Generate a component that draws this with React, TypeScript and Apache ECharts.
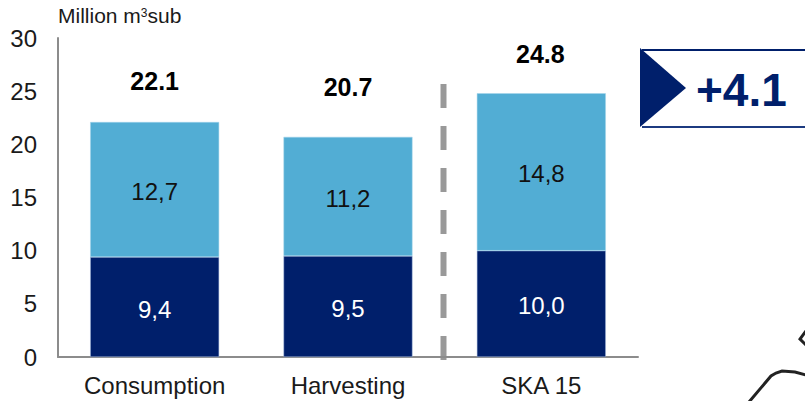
import React, { useEffect, useRef } from "react";
import * as echarts from "echarts";

const categories = ["Consumption", "Harvesting", "SKA 15"];
const lowerValues = [9.4, 9.5, 10.0];
const upperValues = [12.7, 11.2, 14.8];
const totals = [22.1, 20.7, 24.8];
const totalOffsets = [[0, -23], [0, -32], [-1, -21]];
const yTicks = [0, 5, 10, 15, 20, 25, 30];
const deltaLabel = "+4.1";

const NAVY = "#001f6b";
const SKY = "#52add4";
const AXIS = "#8c8c8c";
const FONT = "'Liberation Sans', Arial, sans-serif";

const decimalComma = (v: number) => v.toFixed(1).replace(".", ",");

export default function App() {
  const ref = useRef<HTMLDivElement>(null);

  useEffect(() => {
    const chart = echarts.init(ref.current!, undefined, { renderer: "svg" });
    chart.setOption({
      animation: false,
      backgroundColor: "#ffffff",
      textStyle: { fontFamily: FONT },
      title: {
        left: 58,
        top: 3,
        padding: 0,
        text: "{a|Million m}{b|3}{a|sub}",
        textStyle: {
          fontWeight: "normal",
          rich: {
            a: { fontSize: 21, fontWeight: "normal", fontFamily: FONT, color: "#1a1a1a", lineHeight: 24 },
            b: { fontSize: 12, fontWeight: "normal", fontFamily: FONT, color: "#1a1a1a", verticalAlign: "middle", lineHeight: 12, padding: [0, 0, 4, 0] },
          },
        },
      },
      grid: { left: 58, top: 38, width: 580, height: 319, containLabel: false },
      xAxis: {
        type: "category",
        data: categories,
        axisLine: { lineStyle: { color: AXIS, width: 2 } },
        axisTick: { show: false },
        axisLabel: { color: "#1a1a1a", fontSize: 24, margin: 16, fontFamily: FONT },
      },
      yAxis: {
        type: "value",
        min: 0,
        max: 30,
        interval: 5,
        axisLine: { show: true, lineStyle: { color: AXIS, width: 2 } },
        axisTick: { show: false },
        splitLine: { show: false },
        axisLabel: {
          color: "#1a1a1a",
          fontSize: 24,
          margin: 21,
          fontFamily: FONT,
          formatter: (v: number) => (yTicks.includes(v) ? String(v) : ""),
        },
      },
      series: [
        {
          type: "bar",
          stack: "volume",
          barWidth: "66.7%",
          data: lowerValues,
          itemStyle: { color: NAVY, borderColor: "#a9bfe0", borderWidth: 0.5 },
          label: {
            show: true,
            position: "inside",
            offset: [0, 2],
            color: "#ffffff",
            fontSize: 24,
            fontFamily: FONT,
            formatter: (p: any) => decimalComma(p.value),
          },
        },
        {
          type: "bar",
          stack: "volume",
          data: upperValues,
          itemStyle: { color: SKY, borderColor: "#a5d5ea", borderWidth: 0.5 },
          label: {
            show: true,
            position: "inside",
            offset: [0, 2],
            color: "#111111",
            fontSize: 24,
            fontFamily: FONT,
            formatter: (p: any) => decimalComma(p.value),
          },
        },
        {
          // Invisible line that only carries the total above each column
          type: "line",
          data: totals.map((value, i) => ({
            value,
            label: { offset: totalOffsets[i] },
          })),
          symbol: "circle",
          symbolSize: 1,
          itemStyle: { color: "rgba(0,0,0,0)", borderWidth: 0 },
          lineStyle: { opacity: 0 },
          label: {
            show: true,
            position: "top",
            color: "#000000",
            fontSize: 25,
            fontWeight: "bold",
            fontFamily: FONT,
            formatter: (p: any) => p.value.toFixed(1),
          },
        },
      ],
      graphic: [
        {
          type: "line",
          shape: { x1: 443.5, y1: 84, x2: 443.5, y2: 360 },
          style: { stroke: "#999999", lineWidth: 6, lineDash: [24, 18] },
        },
        {
          type: "polyline",
          shape: { points: [[642, 50], [806, 50]] },
          style: { stroke: NAVY, lineWidth: 2, fill: "none" },
        },
        {
          type: "polyline",
          shape: { points: [[642, 127], [806, 127]] },
          style: { stroke: "#1c3a80", lineWidth: 2, fill: "none" },
        },
        {
          type: "polygon",
          shape: { points: [[640, 48], [686, 88], [640, 127]] },
          style: { fill: NAVY },
        },
        {
          type: "text",
          x: 696,
          y: 90,
          style: {
            text: deltaLabel,
            fill: NAVY,
            font: `bold 46px ${FONT}`,
            textVerticalAlign: "middle",
          },
        },
        {
          type: "polyline",
          shape: { points: [[749, 402], [771, 376], [776, 373], [782, 371], [795, 372], [806, 375]] },
          style: { stroke: "#222222", lineWidth: 3, fill: "none" },
        },
        {
          type: "polyline",
          shape: { points: [[806, 331], [800, 339], [806, 345]] },
          style: { stroke: "#222222", lineWidth: 3, fill: "none" },
        },
      ],
    });
    return () => chart.dispose();
  }, []);

  return (
    <div
      ref={ref}
      style={{ position: "fixed", left: 0, top: 0, width: 805, height: 401 }}
    />
  );
}
